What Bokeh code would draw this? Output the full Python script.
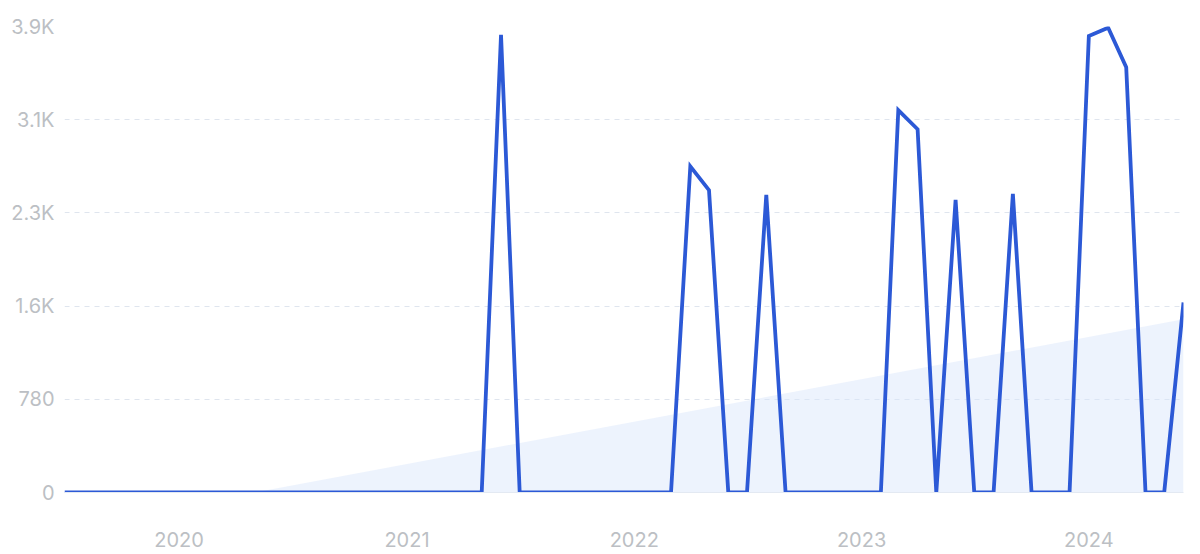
import pandas as pd
from bokeh.plotting import figure
from bokeh.models import FixedTicker, ColumnDataSource
from bokeh.embed import file_html
from bokeh.resources import INLINE

# Monthly series, Jul 2019 .. Jun 2024
months = [d.strftime("%Y-%m-%d") for d in pd.date_range("2019-07-01", "2024-06-01", freq="MS")]
values = [
    0, 0, 0, 0, 0, 0,            # 2019 Jul-Dec
    0, 0, 0, 0, 0, 0,            # 2020 Jan-Jun
    0, 0, 0, 0, 0, 0,            # 2020 Jul-Dec
    0, 0, 0, 0, 0, 3830,         # 2021 Jan-Jun
    0, 0, 0, 0, 0, 0,            # 2021 Jul-Dec
    0, 0, 0, 2730, 2530, 0,      # 2022 Jan-Jun
    0, 2490, 0, 0, 0, 0,         # 2022 Jul-Dec
    0, 0, 3200, 3040, 0, 2450,   # 2023 Jan-Jun
    0, 0, 2500, 0, 0, 0,         # 2023 Jul-Dec
    3820, 3890, 3560, 0, 0, 1590 # 2024 Jan-Jun
]

trend_dates = ["2020-05-01", "2024-06-01"]
trend_values = [0, 1450]

y_ticks = [0, 780, 1560, 2340, 3120, 3900]
y_tick_labels = ["0", "780", "1.6K", "2.3K", "3.1K", "3.9K"]
x_tick_years = ["2020-01-01", "2021-01-01", "2022-01-01", "2023-01-01", "2024-01-01"]
x_tick_labels = ["2020", "2021", "2022", "2023", "2024"]

src = ColumnDataSource(dict(x=pd.to_datetime(months), y=values))
tsrc = ColumnDataSource(dict(x=pd.to_datetime(trend_dates), y1=[0, 0], y2=trend_values))

x0 = pd.Timestamp(months[0])
x1 = pd.Timestamp(months[-1])

p = figure(width=1192, height=552, x_axis_type="datetime",
           x_range=(x0, x1), y_range=(0, 3900),
           output_backend="svg", toolbar_location=None,
           min_border_left=64, min_border_right=9,
           min_border_top=26, min_border_bottom=60)
p.outline_line_color = None
p.background_fill_color = "white"
p.border_fill_color = "white"

p.varea(x="x", y1="y1", y2="y2", source=tsrc, fill_color="#d6e5fb", fill_alpha=0.45)
p.line(x="x", y="y", source=src, line_color="#2c59d6", line_width=3.8, line_join="miter")

font = "Inter"
lab_color = "#bcbfc4"

# Y axis
p.yaxis.ticker = FixedTicker(ticks=y_ticks)
p.yaxis.major_label_overrides = {t: l for t, l in zip(y_ticks, y_tick_labels)}
p.yaxis.axis_line_color = None
p.yaxis.major_tick_line_color = None
p.yaxis.minor_tick_line_color = None
p.yaxis.major_tick_out = 0
p.yaxis.major_tick_in = 0
p.yaxis.major_label_standoff = 10
p.yaxis.major_label_text_font = font
p.yaxis.major_label_text_font_size = "20px"
p.yaxis.major_label_text_color = lab_color

# X axis
xt = [pd.Timestamp(d).value / 1e6 for d in x_tick_years]
p.xaxis.ticker = FixedTicker(ticks=xt)
p.xaxis.major_label_overrides = {t: l for t, l in zip(xt, x_tick_labels)}
p.xaxis.axis_line_color = "#e3e9f2"
p.xaxis.axis_line_width = 1
p.xaxis.major_tick_line_color = None
p.xaxis.minor_tick_line_color = None
p.xaxis.major_label_standoff = 33
p.xaxis.major_label_text_font = font
p.xaxis.major_label_text_font_size = "20px"
p.xaxis.major_label_text_color = lab_color

# Grid
p.xgrid.grid_line_color = None
p.ygrid.ticker = FixedTicker(ticks=y_ticks)
p.ygrid.grid_line_color = "#dfe5ee"
p.ygrid.grid_line_dash = "5 5"
p.ygrid.grid_line_width = 1

open("out.html", "w").write(file_html(p, INLINE))
